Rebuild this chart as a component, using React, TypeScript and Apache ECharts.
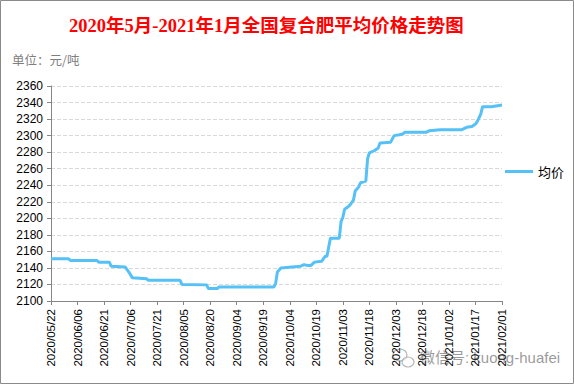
import React, { useEffect, useRef } from "react";
import * as echarts from "echarts";

const titleText = "2020年5月-2021年1月全国复合肥平均价格走势图";
const unitText = "单位：元/吨";
const seriesName = "均价";
const watermarkText = "微信号: kuong-huafei";

const tickLabels = [
  "2020/05/22", "2020/06/06", "2020/06/21", "2020/07/06", "2020/07/21", "2020/08/05",
  "2020/08/20", "2020/09/04", "2020/09/19", "2020/10/04", "2020/10/19", "2020/11/03",
  "2020/11/18", "2020/12/03", "2020/12/18", "2021/01/02", "2021/01/17", "2021/02/01",
];

// day offsets from 2020/05/22
const dayOffsets = [
  0, 10, 11, 26, 27, 33, 34, 42, 44, 46, 54, 55, 73, 74, 88, 89, 94, 95, 126, 127,
  128, 130, 141, 143, 145, 147, 149, 153, 155, 156, 158, 163, 164, 165, 166, 168,
  169, 171, 172, 174, 175, 178, 179, 180, 183, 185, 186, 192, 194, 197, 199, 200,
  212, 214, 220, 232, 235, 238, 240, 241, 243, 244, 249, 255,
];
const prices = [
  2151, 2151, 2149, 2149, 2147, 2147, 2142, 2141, 2135, 2128, 2127, 2125, 2125, 2120,
  2119.5, 2115, 2115, 2117, 2117, 2121, 2135, 2140, 2142, 2144, 2143, 2143, 2147, 2148,
  2154, 2154, 2176, 2176, 2196, 2201, 2211, 2214, 2216, 2222, 2233, 2238, 2243, 2245,
  2272, 2279, 2282, 2285, 2291, 2292, 2300, 2301, 2302, 2304, 2304, 2306, 2307, 2307,
  2310, 2311, 2314, 2317, 2326, 2335, 2335, 2337,
];

export default function App() {
  const ref = useRef<HTMLDivElement>(null);
  useEffect(() => {
    if (!ref.current) return;
    const chart = echarts.init(ref.current, undefined, { renderer: "svg" });
    const data = dayOffsets.map((d, i) => [d, prices[i]]);
    chart.setOption({
      animation: false,
      backgroundColor: "#ffffff",
      title: {
        text: titleText,
        left: 64,
        top: 12,
        textStyle: {
          color: "#ff0000",
          fontSize: 18.5,
          fontWeight: "bold",
          fontFamily: "'Liberation Serif', 'Noto Sans CJK SC', serif",
        },
      },
      legend: {
        orient: "vertical",
        left: 500,
        top: 160,
        icon: "rect",
        itemWidth: 28,
        itemHeight: 3,
        itemGap: 5,
        textStyle: { color: "#000", fontSize: 13, fontFamily: "'Noto Sans CJK SC', sans-serif" },
        data: [seriesName],
      },
      grid: { left: 51, right: 72, top: 86, bottom: 84 },
      xAxis: {
        type: "value",
        min: 0,
        max: 255,
        interval: 15,
        axisLine: { show: true, lineStyle: { color: "#868686", width: 1 } },
        axisTick: { show: true, length: 4, lineStyle: { color: "#868686" } },
        splitLine: { show: false },
        axisLabel: {
          rotate: 90,
          margin: 8,
          color: "#000",
          fontSize: 11.5,
          fontFamily: "'Liberation Sans', Arial, sans-serif",
          formatter: (v: number) => tickLabels[Math.round(v / 15)] ?? "",
        },
      },
      yAxis: {
        type: "value",
        min: 2100,
        max: 2360,
        interval: 20,
        axisLine: { show: true, lineStyle: { color: "#868686", width: 1 } },
        axisTick: { show: true, length: 4, lineStyle: { color: "#868686" } },
        splitLine: { show: true, lineStyle: { color: "#d9d9d9", type: "dashed", width: 1 } },
        axisLabel: {
          margin: 8,
          color: "#000",
          fontSize: 12,
          fontFamily: "'Liberation Sans', Arial, sans-serif",
          formatter: (v: number) => String(v),
        },
      },
      series: [
        {
          name: seriesName,
          type: "line",
          data,
          symbol: "none",
          showSymbol: false,
          lineStyle: { color: "#55c1f6", width: 3 },
          itemStyle: { color: "#55c1f6" },
        },
      ],
      graphic: [
        {
          type: "rect",
          silent: true,
          shape: { x: 0.5, y: 0.5, width: 573, height: 383 },
          style: { fill: "none", stroke: "#8a8a8a", lineWidth: 1 },
        },
        {
          type: "text",
          left: 12,
          top: 53,
          style: {
            text: unitText,
            fill: "#7f7f7f",
            fontSize: 12.5,
            fontFamily: "'Noto Sans CJK SC', sans-serif",
          },
        },
        {
          type: "ellipse",
          silent: true,
          shape: { cx: 400, cy: 355, rx: 7, ry: 6 },
          style: { fill: "rgba(255,255,255,0.6)", stroke: "rgba(150,150,150,0.7)", lineWidth: 1.2 },
        },
        {
          type: "ellipse",
          silent: true,
          shape: { cx: 408, cy: 362, rx: 6, ry: 5 },
          style: { fill: "rgba(255,255,255,0.6)", stroke: "rgba(150,150,150,0.7)", lineWidth: 1.2 },
        },
        {
          type: "text",
          left: 420,
          top: 350,
          style: {
            text: watermarkText,
            fill: "rgba(120,120,120,0.75)",
            fontSize: 15,
            fontFamily: "'Liberation Sans', 'Noto Sans CJK SC', sans-serif",
          },
        },
      ],
    });
    return () => chart.dispose();
  }, []);
  return (
    <div
      ref={ref}
      style={{ position: "fixed", left: 0, top: 0, width: 574, height: 385 }}
    />
  );
}
